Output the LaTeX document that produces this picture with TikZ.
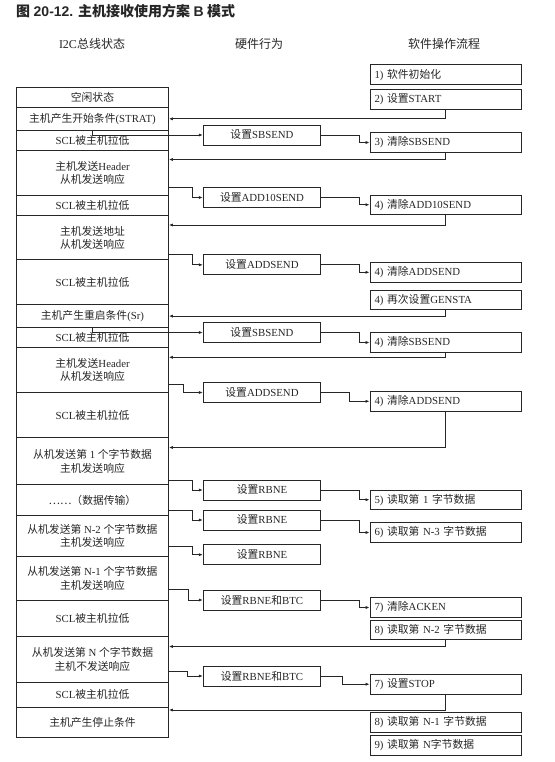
\documentclass[tikz,border=0pt]{standalone}
\usepackage{fontspec}
\setmainfont{Liberation Serif}
\newfontfamily\cj{Noto Sans CJK SC}
\newfontfamily\lsans{Liberation Sans}
\usetikzlibrary{arrows.meta}
\newcommand\zh[1]{{\cj #1}}
\newcommand\fs{\fontsize{10.8}{13.3}\selectfont}
\begin{document}
\begin{tikzpicture}[x=1pt,y=-1pt,
  every node/.style={text=black!85},
  row/.style={draw=black!85, line width=0.9pt, minimum width=152pt, inner sep=0pt, anchor=north west, align=center, font=\fs},
  hw/.style={draw=black!85, line width=0.9pt, minimum width=117.4pt, minimum height=20pt, inner sep=0pt, font=\fs},
  sw/.style={draw=black!85, line width=0.9pt, minimum height=19.5pt, inner xsep=4.5pt, inner ysep=0pt, text width=142.7pt, align=left, font=\fs},
  hdr/.style={font=\fontsize{12}{14}\selectfont},
  arr/.style={draw=black!85, line width=0.8pt, -{Latex[length=4pt,width=3.2pt]}}
]
\useasboundingbox (0,0) rectangle (554,762);

% title
\node[anchor=west, inner sep=0pt, font=\fontsize{14}{16}\selectfont\bfseries] (title) at (16,11)
  {\zh{图} {\lsans 20-12.} \zh{主机接收使用方案} {\lsans B} \zh{模式}};

% headers
\node[hdr] (h1) at (92,44) {I2C\zh{总线状态}};
\node[hdr] (h2) at (259,44) {\zh{硬件行为}};
\node[hdr] (h3) at (444,44) {\zh{软件操作流程}};

% left column rows
\node[row, minimum height=19.4pt] (r1) at (16,87.3) {\zh{空闲状态}};
\node[row, minimum height=23.3pt] (r2) at (16,106.7) {\zh{主机产生开始条件}(STRAT)};
\node[row, minimum height=20.3pt] (r3) at (16,130) {SCL\zh{被主机拉低}};
\node[row, minimum height=44.7pt] (r4) at (16,150.3) {\zh{主机发送}Header\\\zh{从机发送响应}};
\node[row, minimum height=20.3pt] (r5) at (16,195) {SCL\zh{被主机拉低}};
\node[row, minimum height=44pt] (r6) at (16,215.3) {\zh{主机发送地址}\\\zh{从机发送响应}};
\node[row, minimum height=44.7pt] (r7) at (16,259.3) {SCL\zh{被主机拉低}};
\node[row, minimum height=23.3pt] (r8) at (16,304) {\zh{主机产生重启条件}(Sr)};
\node[row, minimum height=20pt] (r9) at (16,327.3) {SCL\zh{被主机拉低}};
\node[row, minimum height=45pt] (r10) at (16,347.3) {\zh{主机发送}Header\\\zh{从机发送响应}};
\node[row, minimum height=45pt] (r11) at (16,392.3) {SCL\zh{被主机拉低}};
\node[row, minimum height=47pt] (r12) at (16,437.3) {\zh{从机发送第} 1 \zh{个字节数据}\\\zh{主机发送响应}};
\node[row, minimum height=30.7pt] (r13) at (16,484.3) {\zh{……（数据传输）}};
\node[row, minimum height=40.7pt] (r14) at (16,515) {\zh{从机发送第} N-2 \zh{个字节数据}\\\zh{主机发送响应}};
\node[row, minimum height=44.3pt] (r15) at (16,555.7) {\zh{从机发送第} N-1 \zh{个字节数据}\\\zh{主机发送响应}};
\node[row, minimum height=36pt] (r16) at (16,600) {SCL\zh{被主机拉低}};
\node[row, minimum height=45.7pt] (r17) at (16,636) {\zh{从机发送第} N \zh{个字节数据}\\\zh{主机不发送响应}};
\node[row, minimum height=25pt] (r18) at (16,681.7) {SCL\zh{被主机拉低}};
\node[row, minimum height=30pt] (r19) at (16,706.7) {\zh{主机产生停止条件}};

% hardware column
\node[hw] (m1) at (262,135) {\zh{设置}SBSEND};
\node[hw] (m2) at (262,197.5) {\zh{设置}ADD10SEND};
\node[hw] (m3) at (262,264.8) {\zh{设置}ADDSEND};
\node[hw] (m4) at (262,332.5) {\zh{设置}SBSEND};
\node[hw] (m5) at (262,392.5) {\zh{设置}ADDSEND};
\node[hw] (m6) at (262,490) {\zh{设置}RBNE};
\node[hw] (m7) at (262,520) {\zh{设置}RBNE};
\node[hw] (m8) at (262,554.7) {\zh{设置}RBNE};
\node[hw] (m9) at (262,600) {\zh{设置}RBNE\zh{和}BTC};
\node[hw] (m10) at (262,676) {\zh{设置}RBNE\zh{和}BTC};

% software column
\node[sw] (s1) at (445.85,74.7) {1) \zh{软件初始化}};
\node[sw] (s2) at (445.85,99.7) {2) \zh{设置}START};
\node[sw] (s3) at (445.85,142.5) {3) \zh{清除}SBSEND};
\node[sw] (s4) at (445.85,204.7) {4) \zh{清除}ADD10SEND};
\node[sw] (s5) at (445.85,272.3) {4) \zh{清除}ADDSEND};
\node[sw] (s6) at (445.85,300) {4) \zh{再次设置}GENSTA};
\node[sw] (s7) at (445.85,342.5) {4) \zh{清除}SBSEND};
\node[sw] (s8) at (445.85,401.3) {4) \zh{清除}ADDSEND};
\node[sw] (s9) at (445.85,499.7) {5) \zh{读取第} 1 \zh{字节数据}};
\node[sw] (s10) at (445.85,532.5) {6) \zh{读取第} N-3 \zh{字节数据}};
\node[sw] (s11) at (445.85,607.5) {7) \zh{清除}ACKEN};
\node[sw] (s12) at (445.85,630) {8) \zh{读取第} N-2 \zh{字节数据}};
\node[sw] (s13) at (445.85,684.2) {7) \zh{设置}STOP};
\node[sw] (s14) at (445.85,722.5) {8) \zh{读取第} N-1 \zh{字节数据}};
\node[sw] (s15) at (445.85,745.3) {9) \zh{读取第} N\zh{字节数据}};

% connectors
\draw[arr] (s2.south) |- (r2.east);
\draw[arr] (r2.south) |- (m1.west);
\draw[arr] (m1.east) -| ([xshift=-10pt]s3.west) -- (s3.west);
\draw[arr] (s3.south) |- (r4.east |- 0,159.5);
\draw[arr] (r4.east |- 0,187.3) -| ([xshift=-10pt]m2.west) -- (m2.west);
\draw[arr] (m2.east) -| ([xshift=-10pt]s4.west) -- (s4.west);
\draw[arr] (s4.south) |- (r6.east |- 0,225);
\draw[arr] (r6.east |- 0,254.3) -| ([xshift=-10pt]m3.west) -- (m3.west);
\draw[arr] (m3.east) -| ([xshift=-10pt]s5.west) -- (s5.west);
\draw[arr] (s6.south) |- (r8.east);
\draw[arr] (r8.south) |- (m4.west);
\draw[arr] (m4.east) -| ([xshift=-10pt]s7.west) -- (s7.west);
\draw[arr] (s7.south) |- (r10.east |- 0,357.3);
\draw[arr] (r10.east |- 0,384.3) -| ([xshift=-19pt]m5.west) -- (m5.west);
\draw[arr] (m5.east) -| ([xshift=-20pt]s8.west) -- (s8.west);
\draw[arr] (s8.south) |- (r12.east |- 0,447.5);
\draw[arr] (r12.east |- 0,480) -| ([xshift=-10pt]m6.west) -- (m6.west);
\draw[arr] (m6.east) -| ([xshift=-10pt]s9.west) -- (s9.west);
\draw[arr] (r13.east |- 0,510) -| ([xshift=-10pt]m7.west) -- (m7.west);
\draw[arr] (m7.east) -| ([xshift=-10pt]s10.west) -- (s10.west);
\draw[arr] (r14.east |- 0,546) -| ([xshift=-10pt]m8.west) -- (m8.west);
\draw[arr] (r15.east |- 0,589.3) -| ([xshift=-14pt]m9.west) -- (m9.west);
\draw[arr] (m9.east) -| ([xshift=-10pt]s11.west) -- (s11.west);
\draw[arr] (s12.south) |- (r17.east |- 0,646.5);
\draw[arr] (r17.east |- 0,671.7) -| ([xshift=-15pt]m10.west) -- (m10.west);
\draw[arr] (m10.east) -| ([xshift=-27.3pt]s13.west) -- (s13.west);
\draw[arr] (s13.south) |- (r19.east |- 0,710);
\end{tikzpicture}
\end{document}
